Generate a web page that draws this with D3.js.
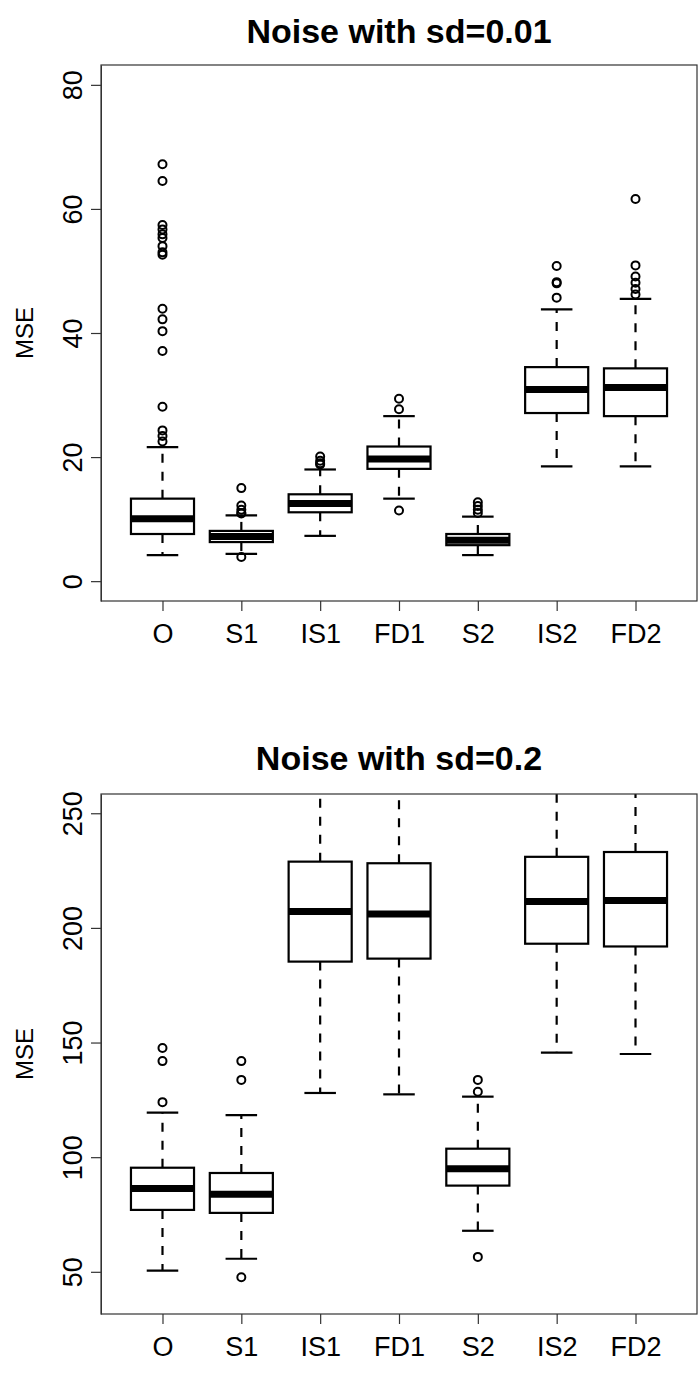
<!DOCTYPE html>
<html>
<head>
<meta charset="utf-8">
<script src="https://cdn.jsdelivr.net/npm/d3@7"></script>
<style>
  html, body { margin: 0; padding: 0; background: #fff; }
  svg { display: block; }
  text { font-family: "Liberation Sans", Arial, sans-serif; fill: #000; }
</style>
</head>
<body>
<svg id="chart" width="700" height="1376"></svg>
<script>
// ---------- data ----------
const categories = ["O", "S1", "IS1", "FD1", "S2", "IS2", "FD2"];

// Panel 1: Noise with sd=0.01
const title1 = "Noise with sd=0.01";
const yTicks1 = [0, 20, 40, 60, 80];
const yLim1 = [0, 80];
const low1  = [4.2, 4.4, 7.3, 13.3, 4.2, 18.5, 18.5];
const q1_1  = [7.6, 6.3, 11.1, 18.1, 5.8, 27.1, 26.6];
const med1  = [10.05, 7.2, 12.5, 19.7, 6.6, 30.9, 31.2];
const q3_1  = [13.3, 8.1, 14.0, 21.7, 7.6, 34.5, 34.3];
const high1 = [21.6, 10.6, 18.0, 26.6, 10.4, 43.8, 45.5];
const out1 = [
  [67.2, 64.5, 57.4, 56.7, 55.9, 55.3, 54.0, 53.0, 52.6, 43.9, 42.2, 40.3, 37.1, 28.1, 24.3, 23.4, 22.5],
  [15.0, 12.2, 11.5, 11.0, 10.9, 3.9],
  [20.1, 19.4, 19.0, 18.8],
  [29.4, 27.7, 11.4],
  [12.7, 12.1, 11.5, 11.0],
  [50.8, 48.2, 48.0, 45.7],
  [61.6, 50.9, 49.1, 48.1, 47.1, 46.2]
];

// Panel 2: Noise with sd=0.2
const title2 = "Noise with sd=0.2";
const yTicks2 = [50, 100, 150, 200, 250];
const yLim2 = [40, 250];
const low2  = [50.5, 55.7, 128.0, 127.4, 67.9, 145.6, 145.0];
const q1_2  = [77.0, 75.7, 185.3, 186.6, 87.6, 193.1, 191.9];
const med2  = [86.3, 83.8, 207.1, 206.1, 94.9, 211.5, 212.0];
const q3_2  = [95.4, 93.1, 228.9, 228.2, 103.7, 231.0, 233.1];
const high2 = [119.4, 118.3, 275, 275, 126.4, 280, 280];
const out2 = [
  [124.0, 141.9, 147.6],
  [133.7, 141.9, 47.6],
  [],
  [],
  [128.5, 133.7, 56.5],
  [],
  []
];

const yLabel = "MSE";

// ---------- layout ----------
const svg = d3.select("#chart");
const plotLeft = 101, plotRight = 697;
const axisFont = 27;

const panels = [
  {title: title1, ticks: yTicks1, lim: yLim1, low: low1, q1: q1_1, med: med1, q3: q3_1, high: high1, out: out1,
   top: 65, bottom: 601, titleY: 43, id: "p1"},
  {title: title2, ticks: yTicks2, lim: yLim2, low: low2, q1: q1_2, med: med2, q3: q3_2, high: high2, out: out2,
   top: 794, bottom: 1314, titleY: 770, id: "p2"}
];

// x scale: positions 1..n with R-style xlim c(0.5, n+0.5) expanded by 4%
const n = categories.length;
const xr = [0.5, n + 0.5];
const xpad = (xr[1] - xr[0]) * 0.04;
const x = d3.scaleLinear().domain([xr[0] - xpad, xr[1] + xpad]).range([plotLeft, plotRight]);
const unit = x(2) - x(1);
const boxHalf = unit * 0.8 / 2;
const stapleHalf = boxHalf / 2;

panels.forEach(p => {
  const ypad = (p.lim[1] - p.lim[0]) * 0.04;
  const y = d3.scaleLinear().domain([p.lim[0] - ypad, p.lim[1] + ypad]).range([p.bottom, p.top]);

  const g = svg.append("g");

  svg.append("clipPath").attr("id", "clip-" + p.id)
    .append("rect").attr("x", plotLeft).attr("y", p.top)
    .attr("width", plotRight - plotLeft).attr("height", p.bottom - p.top);

  const plot = g.append("g").attr("clip-path", "url(#clip-" + p.id + ")");

  const data = categories.map((c, i) => ({
    c, i, low: p.low[i], q1: p.q1[i], med: p.med[i], q3: p.q3[i], high: p.high[i], out: p.out[i]
  }));

  const bx = plot.selectAll("g.box").data(data).enter().append("g").attr("class", "box");

  // whiskers (dashed)
  bx.append("line")
    .attr("x1", d => x(d.i + 1)).attr("x2", d => x(d.i + 1))
    .attr("y1", d => y(d.q3)).attr("y2", d => y(d.high))
    .attr("stroke", "#000").attr("stroke-width", 2.2).attr("stroke-dasharray", "9,9");
  bx.append("line")
    .attr("x1", d => x(d.i + 1)).attr("x2", d => x(d.i + 1))
    .attr("y1", d => y(d.q1)).attr("y2", d => y(d.low))
    .attr("stroke", "#000").attr("stroke-width", 2.2).attr("stroke-dasharray", "9,9");
  // staples
  bx.append("line")
    .attr("x1", d => x(d.i + 1) - stapleHalf).attr("x2", d => x(d.i + 1) + stapleHalf)
    .attr("y1", d => y(d.high)).attr("y2", d => y(d.high))
    .attr("stroke", "#000").attr("stroke-width", 2.2);
  bx.append("line")
    .attr("x1", d => x(d.i + 1) - stapleHalf).attr("x2", d => x(d.i + 1) + stapleHalf)
    .attr("y1", d => y(d.low)).attr("y2", d => y(d.low))
    .attr("stroke", "#000").attr("stroke-width", 2.2);
  // box
  bx.append("rect")
    .attr("x", d => x(d.i + 1) - boxHalf).attr("width", boxHalf * 2)
    .attr("y", d => y(d.q3)).attr("height", d => y(d.q1) - y(d.q3))
    .attr("fill", "#fff").attr("stroke", "#000").attr("stroke-width", 2.2);
  // median
  bx.append("line")
    .attr("x1", d => x(d.i + 1) - boxHalf).attr("x2", d => x(d.i + 1) + boxHalf)
    .attr("y1", d => y(d.med)).attr("y2", d => y(d.med))
    .attr("stroke", "#000").attr("stroke-width", 7);
  // outliers
  bx.each(function(d) {
    d3.select(this).selectAll("circle").data(d.out).enter().append("circle")
      .attr("cx", x(d.i + 1)).attr("cy", v => y(v)).attr("r", 4)
      .attr("fill", "none").attr("stroke", "#000").attr("stroke-width", 2);
  });

  // frame
  g.append("rect").attr("x", plotLeft).attr("y", p.top)
    .attr("width", plotRight - plotLeft).attr("height", p.bottom - p.top)
    .attr("fill", "none").attr("stroke", "#333").attr("stroke-width", 1.2);

  // y axis
  const yAxis = d3.axisLeft(y).tickValues(p.ticks).tickSize(10).tickPadding(0).tickSizeOuter(0);
  const ya = g.append("g").attr("transform", `translate(${plotLeft},0)`).call(yAxis);
  ya.select(".domain").attr("stroke", "#333");
  ya.selectAll(".tick line").attr("stroke", "#333").attr("stroke-width", 1.2);
  ya.selectAll(".tick text")
    .attr("font-size", axisFont).attr("font-family", "Liberation Sans, Arial, sans-serif")
    .attr("text-anchor", "middle")
    .attr("x", 0).attr("y", 0).attr("dy", 0)
    .attr("transform", "translate(-19,0) rotate(-90)");

  // x axis
  const xAxis = d3.axisBottom(x).tickValues(d3.range(1, n + 1)).tickFormat(i => categories[i - 1])
    .tickSize(10).tickPadding(13).tickSizeOuter(0);
  const xa = g.append("g").attr("transform", `translate(0,${p.bottom})`).call(xAxis);
  xa.select(".domain").remove();
  xa.selectAll(".tick line").attr("stroke", "#333").attr("stroke-width", 1.2);
  xa.selectAll(".tick text").attr("font-size", axisFont).attr("font-family", "Liberation Sans, Arial, sans-serif")
    .attr("dy", "0.71em");

  // y label
  g.append("text")
    .attr("transform", `translate(33,${(p.top + p.bottom) / 2}) rotate(-90)`)
    .attr("text-anchor", "middle").attr("font-size", 24).text(yLabel);

  // title
  g.append("text").attr("x", (plotLeft + plotRight) / 2).attr("y", p.titleY)
    .attr("text-anchor", "middle").attr("font-size", 34).attr("font-weight", "bold").text(p.title);
});
</script>
</body>
</html>
